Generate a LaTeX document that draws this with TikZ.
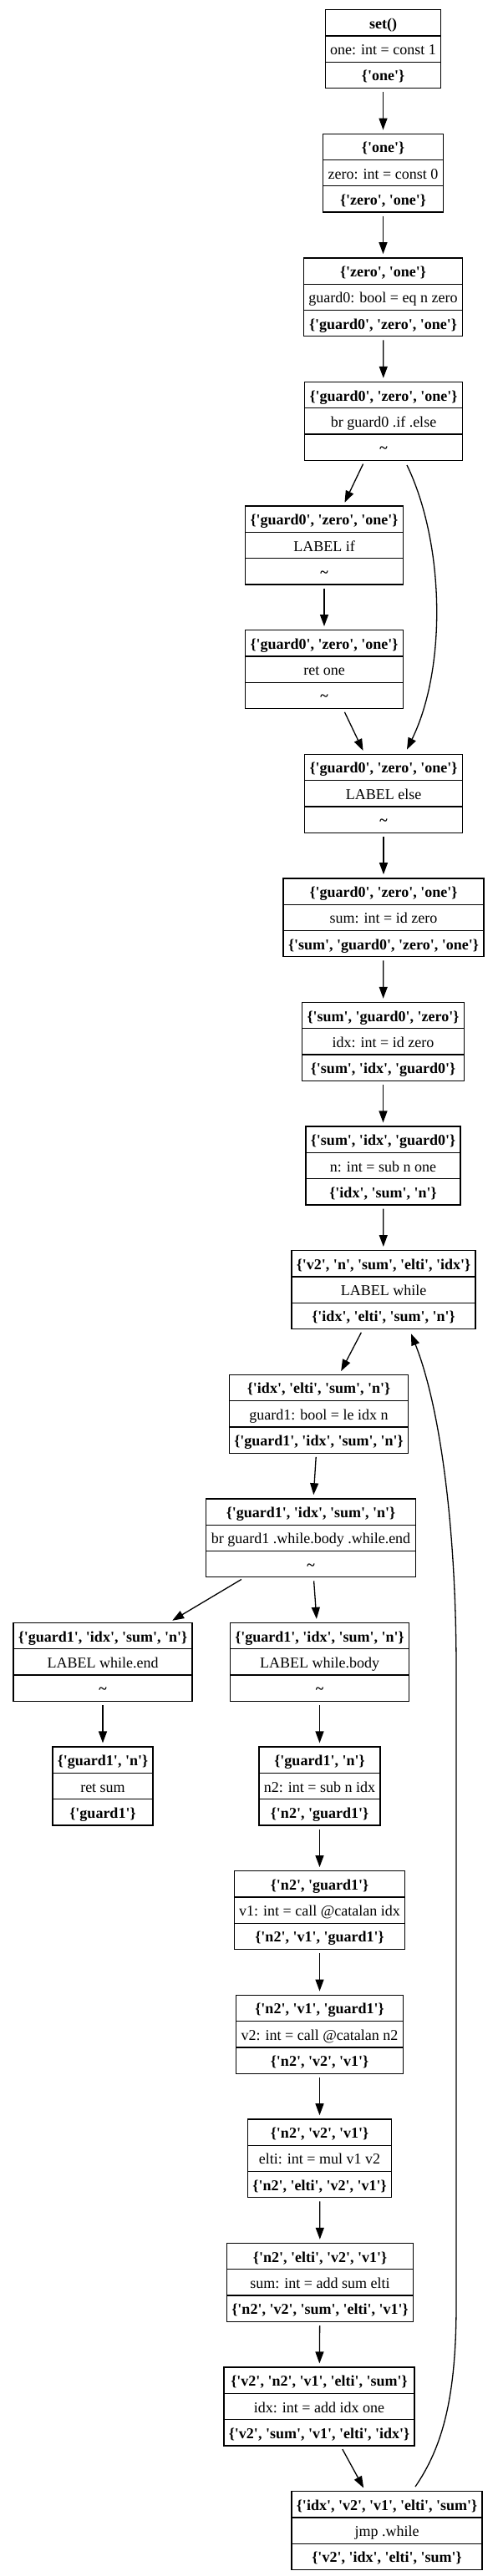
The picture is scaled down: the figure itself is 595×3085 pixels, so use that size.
\documentclass[tikz,border=0pt]{standalone}
\usepackage{fontspec}
\newfontfamily\gv{Liberation Serif}
\usetikzlibrary{shapes.multipart,arrows.meta}
\newcommand\q[1]{\textquotesingle#1\textquotesingle}
\newcommand\st[1]{\{#1\}}
\newcommand\rs{\gv\fontsize{18}{21}\selectfont\rule[-8pt]{0pt}{30pt}}
\newcommand\bx[3]{\rs\textbf{#1}\nodepart{two}\rs #2\nodepart{three}\rs\textbf{#3}}
\newcommand\tl{\textasciitilde}
\tikzset{
  rec/.style={rectangle split, rectangle split parts=3, draw=black, line width=1.3pt,
    inner xsep=6pt, inner ysep=0pt, anchor=north, align=center},
  edge/.style={line width=1.3pt, -{Triangle[length=14pt,width=10pt]}},
  sedge/.style={edge, shorten >=4pt, shorten <=4pt}
}
\begin{document}
\begin{tikzpicture}[x=1pt,y=-1pt]
\useasboundingbox (0,0) rectangle (595,3085);
\node[rec] (n0) at (458.5,11) {\bx{set()}{one: int = const 1}{\st{\q{one}}}};
\node[rec] (n1) at (458.5,159.6) {\bx{\st{\q{one}}}{zero: int = const 0}{\st{\q{zero}, \q{one}}}};
\node[rec] (n2) at (458.5,308.2) {\bx{\st{\q{zero}, \q{one}}}{guard0: bool = eq n zero}{\st{\q{guard0}, \q{zero}, \q{one}}}};
\node[rec] (n3) at (459,456.8) {\bx{\st{\q{guard0}, \q{zero}, \q{one}}}{br guard0 .if .else}{\tl}};
\node[rec] (n4) at (388,605.4) {\bx{\st{\q{guard0}, \q{zero}, \q{one}}}{LABEL if}{\tl}};
\node[rec] (n5) at (388,754) {\bx{\st{\q{guard0}, \q{zero}, \q{one}}}{ret one}{\tl}};
\node[rec] (n6) at (459,902.6) {\bx{\st{\q{guard0}, \q{zero}, \q{one}}}{LABEL else}{\tl}};
\node[rec] (n7) at (459,1051.2) {\bx{\st{\q{guard0}, \q{zero}, \q{one}}}{sum: int = id zero}{\st{\q{sum}, \q{guard0}, \q{zero}, \q{one}}}};
\node[rec] (n8) at (458.5,1199.8) {\bx{\st{\q{sum}, \q{guard0}, \q{zero}}}{idx: int = id zero}{\st{\q{sum}, \q{idx}, \q{guard0}}}};
\node[rec] (n9) at (458.5,1348.4) {\bx{\st{\q{sum}, \q{idx}, \q{guard0}}}{n: int = sub n one}{\st{\q{idx}, \q{sum}, \q{n}}}};
\node[rec] (n10) at (459,1497) {\bx{\st{\q{v2}, \q{n}, \q{sum}, \q{elti}, \q{idx}}}{LABEL while}{\st{\q{idx}, \q{elti}, \q{sum}, \q{n}}}};
\node[rec] (n11) at (381.5,1645.6) {\bx{\st{\q{idx}, \q{elti}, \q{sum}, \q{n}}}{guard1: bool = le idx n}{\st{\q{guard1}, \q{idx}, \q{sum}, \q{n}}}};
\node[rec] (n12) at (372,1794.2) {\bx{\st{\q{guard1}, \q{idx}, \q{sum}, \q{n}}}{br guard1 .while.body .while.end}{\tl}};
\node[rec] (n13a) at (123,1942.8) {\bx{\st{\q{guard1}, \q{idx}, \q{sum}, \q{n}}}{LABEL while.end}{\tl}};
\node[rec] (n13b) at (382.5,1942.8) {\bx{\st{\q{guard1}, \q{idx}, \q{sum}, \q{n}}}{LABEL while.body}{\tl}};
\node[rec] (n14a) at (123,2091.4) {\bx{\st{\q{guard1}, \q{n}}}{ret sum}{\st{\q{guard1}}}};
\node[rec] (n14b) at (382.5,2091.4) {\bx{\st{\q{guard1}, \q{n}}}{n2: int = sub n idx}{\st{\q{n2}, \q{guard1}}}};
\node[rec] (n15) at (382.5,2240) {\bx{\st{\q{n2}, \q{guard1}}}{v1: int = call @catalan idx}{\st{\q{n2}, \q{v1}, \q{guard1}}}};
\node[rec] (n16) at (382.5,2388.6) {\bx{\st{\q{n2}, \q{v1}, \q{guard1}}}{v2: int = call @catalan n2}{\st{\q{n2}, \q{v2}, \q{v1}}}};
\node[rec] (n17) at (382.5,2537.2) {\bx{\st{\q{n2}, \q{v2}, \q{v1}}}{elti: int = mul v1 v2}{\st{\q{n2}, \q{elti}, \q{v2}, \q{v1}}}};
\node[rec] (n18) at (383,2685.8) {\bx{\st{\q{n2}, \q{elti}, \q{v2}, \q{v1}}}{sum: int = add sum elti}{\st{\q{n2}, \q{v2}, \q{sum}, \q{elti}, \q{v1}}}};
\node[rec] (n19) at (382,2834.4) {\bx{\st{\q{v2}, \q{n2}, \q{v1}, \q{elti}, \q{sum}}}{idx: int = add idx one}{\st{\q{v2}, \q{sum}, \q{v1}, \q{elti}, \q{idx}}}};
\node[rec] (n20) at (463,2983) {\bx{\st{\q{idx}, \q{v2}, \q{v1}, \q{elti}, \q{sum}}}{jmp .while}{\st{\q{v2}, \q{idx}, \q{elti}, \q{sum}}}};
% straight edges
\draw[sedge] (n0) -- (n1);
\draw[sedge] (n1) -- (n2);
\draw[sedge] (n2) -- (n3);
\draw[sedge] (n3) -- (n4);
\draw[sedge] (n4) -- (n5);
\draw[sedge] (n5) -- (n6);
\draw[sedge] (n6) -- (n7);
\draw[sedge] (n7) -- (n8);
\draw[sedge] (n8) -- (n9);
\draw[sedge] (n9) -- (n10);
\draw[sedge] (n10) -- (n11);
\draw[sedge] (n11) -- (n12);
\draw[sedge] (n12) -- (n13a);
\draw[sedge] (n12) -- (n13b);
\draw[sedge] (n13a) -- (n14a);
\draw[sedge] (n13b) -- (n14b);
\draw[sedge] (n14b) -- (n15);
\draw[sedge] (n15) -- (n16);
\draw[sedge] (n16) -- (n17);
\draw[sedge] (n17) -- (n18);
\draw[sedge] (n18) -- (n19);
\draw[sedge] (n19) -- (n20);
% curved edges
\draw[edge] ([xshift=28pt,yshift=-5pt]n3.south) .. controls (532,650) and (535,800) .. ([xshift=28pt,yshift=5pt]n6.north);
\draw[edge] ([xshift=34pt,yshift=5pt]n20.north) .. controls (530,2930) and (546,2870) .. (546,2760) -- (546,2000) .. controls (546,1820) and (525,1680) .. ([xshift=33pt,yshift=-5pt]n10.south);
\end{tikzpicture}
\end{document}
